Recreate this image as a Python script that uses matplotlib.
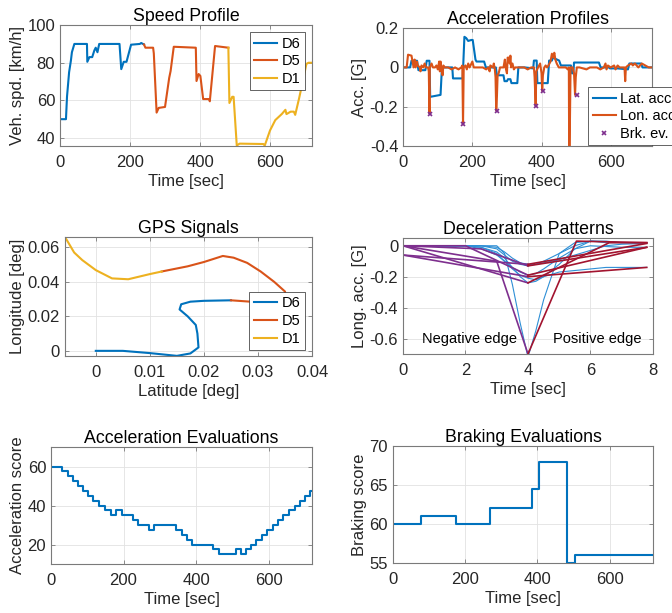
import numpy as np
import matplotlib
matplotlib.use('Agg')
import matplotlib.pyplot as plt

plt.rcParams['font.family'] = ['Liberation Sans', 'DejaVu Sans']
plt.rcParams['axes.unicode_minus'] = False

# colours (MATLAB defaults)
C_BLUE = '#0072BD'
C_ORANGE = '#D95319'
C_YELLOW = '#EDB120'
C_PURPLE = '#7E2F8E'
C_RED = '#A2142F'
C_THIN = '#2E8FD6'

# ---- speed profile (three drivers) ----
t_d6 = [0, 17, 20, 26, 31, 34, 41, 77, 78, 84, 92, 98, 102, 107, 112, 170, 175, 182, 190, 203, 228, 232, 240]
v_d6 = [50, 50, 62, 75, 81, 85.6, 90, 90, 80.5, 83, 83, 86.5, 88, 85.6, 90, 90, 76.6, 80.5, 80.5, 89.6, 90, 90.5, 89.7]
t_d5 = [240, 244, 266, 268, 276, 282, 300, 312, 316, 325, 388, 390, 396, 401, 409, 426, 428, 443, 481]
v_d5 = [89.7, 88, 88, 85, 53.5, 56, 56.5, 72, 75.6, 88.5, 88, 70.3, 74, 73, 60.7, 60.7, 59.5, 88.9, 88]
t_d1 = [481, 484, 492, 496, 505, 513, 581, 585, 600, 615, 634, 644, 647, 659, 668, 672, 683, 693, 704, 710, 720]
v_d1 = [88, 58.6, 61.9, 61.9, 36, 37, 36.8, 36, 44, 49.5, 52.8, 55, 52.7, 54, 54, 52.3, 61, 69.5, 79.4, 80, 80]

# ---- acceleration profiles ----
t_lat = [0, 20, 24, 40, 44, 64, 68, 76, 78, 108, 112, 142, 144, 172, 177, 182, 188, 197, 201, 209, 212, 234, 239,
         268, 271, 290, 293, 300, 303, 310, 313, 330, 333, 352, 376, 378, 386, 388, 418, 422, 430, 433, 451, 456,
         485, 488, 492, 494, 566, 571, 595, 598, 620, 650, 654, 688, 692, 720]
v_lat = [0, 0, 0.034, 0.034, -0.014, -0.014, 0.034, 0.034, -0.15, -0.14, 0.0, 0.0, -0.056, -0.056, 0.156, 0.15,
         0.135, 0.14, 0.14, 0.04, 0.03, 0.03, 0.0, 0.0, -0.04, -0.04, -0.07, -0.07, -0.06, -0.06, -0.08, -0.08, 0.0,
         0.0, -0.005, 0.035, 0.035, -0.08, -0.08, 0.035, 0.035, 0.05, 0.035, 0.01, 0.01, -0.03, -0.03, 0.025, 0.025,
         0.0, 0.0, -0.005, -0.005, -0.01, 0.02, 0.02, 0.0, 0.0]
t_lon = [0, 10, 14, 24, 26, 30, 33, 36, 40, 42, 48, 50, 53, 58, 62, 66, 72, 74, 76, 77, 82, 86, 92, 96, 100, 104,
         106, 108, 110, 114, 116, 120, 130, 140, 150, 160, 168, 171, 173, 175, 180, 184, 188, 192, 200, 204, 210,
         230, 240, 246, 250, 252, 260, 262, 265, 267, 269, 271, 273, 276, 280, 290, 294, 296, 300, 302, 306, 308,
         310, 312, 316, 320, 324, 330, 340, 350, 360, 370, 378, 380, 383, 385, 390, 396, 400, 402, 404, 408, 412,
         416, 420, 426, 430, 434, 437, 440, 444, 450, 460, 470, 476, 479, 480, 481, 484, 490, 494, 497, 499, 502,
         510, 530, 540, 560, 570, 580, 585, 588, 592, 600, 610, 614, 620, 626, 640, 642, 644, 650, 660, 664, 670,
         680, 690, 700, 710, 720]
v_lon = [0, 0, 0.065, 0.06, 0.04, 0.0, 0.04, 0.0, 0.03, 0.01, 0.0, -0.02, 0.01, 0.0, 0.02, 0.0, 0.0, -0.02,
         -0.235, 0.0, 0.02, 0.0, 0.0, 0.01, -0.01, 0.03, -0.02, 0.03, 0.0, -0.04, 0.01, 0.0, 0.0, -0.01, 0.0, -0.01,
         0.0, 0.01, -0.29, 0.0, 0.01, -0.01, 0.02, 0.0, 0.03, 0.0, 0.0, 0.0, -0.01, 0.0, -0.02, 0.01, 0.0, 0.02,
         -0.01, -0.05, -0.22, -0.15, -0.04, -0.03, 0.0, 0.0, 0.04, 0.0, -0.03, 0.05, 0.05, 0.02, 0.06, 0.0, 0.02,
         -0.01, 0.0, 0.0, 0.0, 0.0, -0.01, 0.0, 0.0, -0.05, -0.195, -0.02, 0.0, 0.02, -0.03, -0.12, -0.04, 0.0, 0.01,
         0.0, 0.01, 0.03, 0.07, 0.05, 0.075, 0.04, 0.02, 0.0, 0.0, 0.0, -0.01, 0.0, -0.45, -0.45, 0.0, 0.0, -0.03,
         -0.14, -0.05, 0.0, 0.0, -0.01, 0.0, 0.0, -0.01, 0.0, 0.02, -0.01, 0.01, 0.0, 0.01, -0.01, 0.01, 0.0, 0.0,
         -0.07, 0.0, 0.01, 0.02, 0.01, 0.02, 0.0, 0.02, 0.01, 0.0, 0.0]
t_brk = [77, 174, 270, 384, 403, 502]
v_brk = [-0.235, -0.29, -0.22, -0.196, -0.118, -0.14]

# ---- GPS ----
lat_d6 = [0, 0.005, 0.01, 0.015, 0.0175, 0.019, 0.0188, 0.0185, 0.017, 0.0155, 0.0158, 0.0175, 0.02, 0.025]
lon_d6 = [0, 0, -0.0013, -0.0029, -0.0015, 0.002, 0.01, 0.015, 0.02, 0.024, 0.027, 0.0285, 0.029, 0.0293]
lat_d5 = [0.025, 0.03, 0.0335, 0.0352, 0.035, 0.033, 0.0305, 0.028, 0.0255, 0.0235, 0.02, 0.017, 0.0122]
lon_d5 = [0.0293, 0.0282, 0.029, 0.031, 0.0344, 0.040, 0.046, 0.051, 0.054, 0.055, 0.0515, 0.049, 0.046]
lat_d1 = [0.0122, 0.01, 0.006, 0.003, 0.0, -0.0025, -0.004, -0.0057]
lon_d1 = [0.046, 0.0445, 0.0415, 0.042, 0.0468, 0.0526, 0.057, 0.066]

# ---- deceleration patterns ----
t_curve = [0, 1, 2, 2.5, 3, 3.25, 3.5, 3.75, 4, 4.25, 4.5, 5, 5.5, 6, 6.5, 7, 7.8]
dec_curves = [
    [0, 0, 0, 0, 0, -0.05, -0.25, -0.5, -0.72, -0.55, -0.35, -0.05, 0.02, 0.03, 0.02, 0.02, 0.02],
    [0, 0, 0, -0.01, -0.04, -0.08, -0.14, -0.2, -0.24, -0.23, -0.2, -0.12, -0.02, 0.03, 0.025, 0.02, 0.02],
    [0, 0, 0, 0, -0.01, -0.04, -0.08, -0.11, -0.12, -0.12, -0.11, -0.09, -0.06, -0.03, 0.0, 0.01, 0.015],
    [0, 0, 0, -0.02, -0.06, -0.1, -0.15, -0.19, -0.21, -0.22, -0.2, -0.17, -0.16, -0.15, -0.14, -0.14, -0.14],
    [0, 0, 0, -0.01, -0.05, -0.1, -0.14, -0.17, -0.19, -0.18, -0.15, -0.08, -0.02, 0.0, -0.005, -0.01, -0.01],
    [0, 0, 0, 0, -0.02, -0.06, -0.1, -0.12, -0.13, -0.12, -0.1, -0.05, 0.0, 0.03, 0.03, 0.02, 0.02],
]
neg_t = [[0, 3, 4], [0, 4], [0, 4], [0, 4], [0, 2, 4], [0, 2.5, 4]]
neg_y = [[0, -0.1, -0.7], [0, -0.24], [-0.06, -0.12], [-0.06, -0.2], [0, 0, -0.19], [0, -0.02, -0.13]]
pos_t = [[4, 5.55, 7.8], [4, 6.6, 7.8], [4, 7.8], [4, 7.8], [4, 7.8], [4, 7.8]]
pos_y = [[-0.7, 0.03, 0.02], [-0.24, 0.02, 0.02], [-0.12, 0.015], [-0.2, -0.14], [-0.19, -0.01], [-0.13, -0.01]]

# ---- evaluations ----
t_acc_eval = [0, 31, 46, 60, 74, 87, 102, 117, 133, 149, 165, 179, 195, 225, 239, 271, 284, 344, 361, 375, 390,
              448, 464, 510, 525, 538, 552, 566, 582, 595, 612, 626, 641, 656, 672, 687, 701, 715, 720]
acc_score = [60, 57.5, 55, 52.5, 50, 47.5, 45, 42.5, 40, 37.5, 35, 37.5, 35, 32.5, 30, 27.5, 30, 27.5, 25, 22.5,
             20, 17.5, 15, 17.5, 15, 17.5, 20, 22.5, 25, 27.5, 30, 32.5, 35, 37.5, 40, 42.5, 45, 47.5, 47.5]
t_brk_eval = [0, 77, 174, 269, 385, 403, 482, 503, 720]
brk_score = [60, 61, 60, 62, 64.5, 68, 55, 56, 56]

fig = plt.figure(figsize=(6.72, 6.13), dpi=100)


def style(ax, title, xlabel, ylabel):
    ax.set_title(title, fontsize=12.8, color='black', pad=3)
    ax.set_xlabel(xlabel, fontsize=12, color='#262626', labelpad=3)
    ax.set_ylabel(ylabel, fontsize=12, color='#262626', labelpad=2)
    ax.grid(True, color='#e2e2e2', lw=0.6)
    ax.set_axisbelow(True)
    for s in ax.spines.values():
        s.set_color('#7a7a7a')
        s.set_linewidth(0.8)
    ax.tick_params(direction='in', length=3, width=0.6, color='#7a7a7a',
                   labelcolor='#262626', labelsize=12, top=True, right=True)
    ax.tick_params(axis='x', pad=6.5)
    ax.tick_params(axis='y', pad=3.5)


def box_legend(ax, **kw):
    leg = ax.legend(fontsize=10.5, handlelength=1.6, handletextpad=0.3, borderpad=0.3,
                    labelspacing=0.25, fancybox=False, framealpha=1, **kw)
    leg.get_frame().set_edgecolor('#262626')
    leg.get_frame().set_linewidth(0.5)


LW = 1.5

# Speed Profile
ax1 = fig.add_axes([0.0893, 0.762, 0.375, 0.197])
ax1.plot(t_d6, v_d6, color=C_BLUE, lw=LW, label='D6')
ax1.plot(t_d5, v_d5, color=C_ORANGE, lw=LW, label='D5')
ax1.plot(t_d1, v_d1, color=C_YELLOW, lw=LW, label='D1')
ax1.set_xlim(0, 720)
ax1.set_ylim(35.8, 100)
ax1.set_xticks([0, 200, 400, 600])
ax1.set_yticks([40, 60, 80, 100])
style(ax1, 'Speed Profile', 'Time [sec]', 'Veh. spd. [km/h]')
box_legend(ax1, loc='upper right', borderaxespad=0.5)

# Acceleration Profiles
ax2 = fig.add_axes([0.600, 0.762, 0.3705, 0.192])
ax2.plot(t_lat, v_lat, color=C_BLUE, lw=LW, label='Lat. acc.')
ax2.plot(t_lon, v_lon, color=C_ORANGE, lw=LW, label='Lon. acc.')
ax2.plot(t_brk, v_brk, ls='none', marker='x', ms=3.5, mew=1.2, color=C_PURPLE, label='Brk. ev.')
ax2.set_xlim(0, 720)
ax2.set_ylim(-0.4, 0.2)
ax2.set_xticks([0, 200, 400, 600])
ax2.set_yticks([-0.4, -0.2, 0, 0.2])
ax2.set_yticklabels(['-0.4', '-0.2', '0', '0.2'])
style(ax2, 'Acceleration Profiles', 'Time [sec]', 'Acc. [G]')
# legend sticks out past the right edge of the figure, as in the original
box_legend(ax2, loc='lower left', bbox_to_anchor=(0.743, 0.005), borderaxespad=0)

# GPS Signals
ax3 = fig.add_axes([0.0967, 0.4192, 0.3676, 0.1942])
ax3.plot(lat_d6, lon_d6, color=C_BLUE, lw=LW, label='D6')
ax3.plot(lat_d5, lon_d5, color=C_ORANGE, lw=LW, label='D5')
ax3.plot(lat_d1, lon_d1, color=C_YELLOW, lw=LW, label='D1')
ax3.set_xlim(-0.0057, 0.04)
ax3.set_ylim(-0.003, 0.066)
ax3.set_xticks([0, 0.01, 0.02, 0.03, 0.04])
ax3.set_xticklabels(['0', '0.01', '0.02', '0.03', '0.04'])
ax3.set_yticks([0, 0.02, 0.04, 0.06])
ax3.set_yticklabels(['0', '0.02', '0.04', '0.06'])
style(ax3, 'GPS Signals', 'Latitude [deg]', 'Longitude [deg]')
box_legend(ax3, loc='lower right', bbox_to_anchor=(0.97, 0.05), borderaxespad=0)

# Deceleration Patterns
ax4 = fig.add_axes([0.5997, 0.4225, 0.372, 0.1892])
for y in dec_curves:
    ax4.plot(t_curve, y, color=C_THIN, lw=0.8)
for i in range(len(neg_t)):
    ax4.plot(neg_t[i], neg_y[i], color=C_PURPLE, lw=1.2)
    ax4.plot(pos_t[i], pos_y[i], color=C_RED, lw=1.2)
ax4.text(2.12, -0.6, 'Negative edge', fontsize=10.5, ha='center', va='center', color='black')
ax4.text(6.22, -0.6, 'Positive edge', fontsize=10.5, ha='center', va='center', color='black')
ax4.set_xlim(0, 8)
ax4.set_ylim(-0.7, 0.05)
ax4.set_xticks([0, 2, 4, 6, 8])
ax4.set_yticks([-0.6, -0.4, -0.2, 0])
ax4.set_yticklabels(['-0.6', '-0.4', '-0.2', '0'])
style(ax4, 'Deceleration Patterns', 'Time [sec]', 'Long. acc. [G]')

# Acceleration Evaluations
ax5 = fig.add_axes([0.0759, 0.0799, 0.3884, 0.1909])
ax5.step(t_acc_eval, acc_score, where='post', color=C_BLUE, lw=LW)
ax5.set_xlim(0, 720)
ax5.set_ylim(10, 70)
ax5.set_xticks([0, 200, 400, 600])
ax5.set_yticks([20, 40, 60])
style(ax5, 'Acceleration Evaluations', 'Time [sec]', 'Acceleration score')

# Braking Evaluations
ax6 = fig.add_axes([0.5848, 0.0816, 0.3869, 0.1908])
ax6.step(t_brk_eval, brk_score, where='post', color=C_BLUE, lw=LW)
ax6.set_xlim(0, 720)
ax6.set_ylim(55, 70)
ax6.set_xticks([0, 200, 400, 600])
ax6.set_yticks([55, 60, 65, 70])
style(ax6, 'Braking Evaluations', 'Time [sec]', 'Braking score')

fig.savefig('out.png', dpi=100)
